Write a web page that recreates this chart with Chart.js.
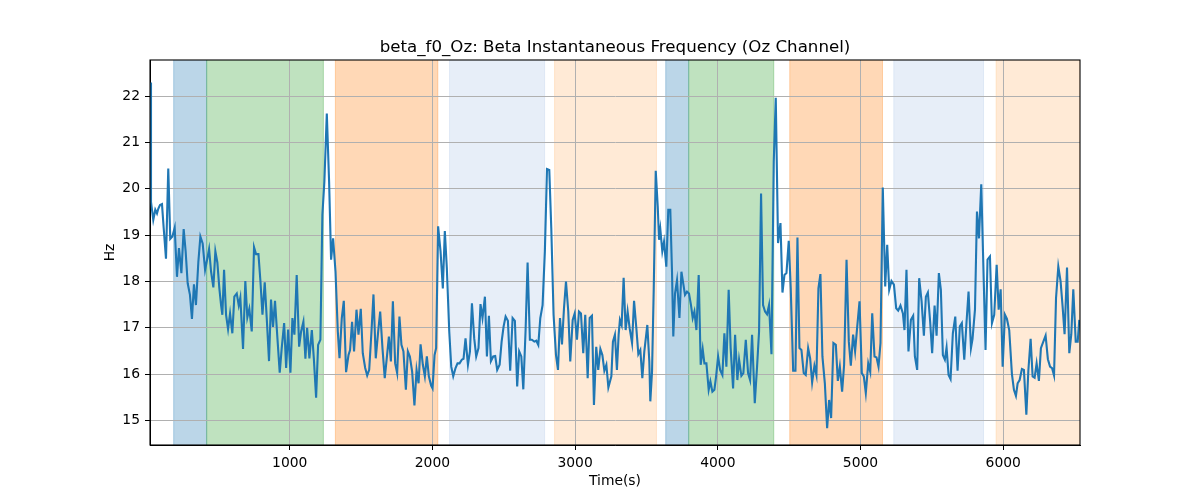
<!DOCTYPE html>
<html>
<head>
<meta charset="utf-8">
<script src="https://cdn.jsdelivr.net/npm/chart.js@4.4.1/dist/chart.umd.min.js"></script>
<style>
html,body{margin:0;padding:0;background:#fff;}
canvas{display:block;}
</style>
</head>
<body>
<canvas id="c" width="1200" height="500"></canvas>
<script>
// ---- data ----
const chartTitle = "beta_f0_Oz: Beta Instantaneous Frequency (Oz Channel)";
const xLabel = "Time(s)";
const yLabel = "Hz";
const xTicks = [1000, 2000, 3000, 4000, 5000, 6000];
const yTicks = [15, 16, 17, 18, 19, 20, 21, 22];
const xRange = [21, 6538];
const yRange = [14.467, 22.784];

const times = [
21,28,44,58,70,79,91,105,117,133,149,163,178,194,210,224,241,257,271,285,301,315,329,343,360,374,390,407,421,435,449,465,479,493,507,519,528,540,554,568,582,598,612,629,643,654,673,689,703,717,734,750,764,781,795,809,825,839,855,869,883,897,914,930,944,961,975,989,1005,1019,1033,1049,1066,1080,1096,1110,1122,1138,
1155,1169,1185,1199,1215,1229,1243,1260,1276,1290,1304,1321,1337,1349,1365,1379,1395,1412,1423,1437,1451,1468,1482,1498,1512,1529,1543,1557,1573,1587,1603,1620,1634,1650,1666,1680,1695,1709,1723,1739,1753,1769,1783,1797,1814,1828,1842,1858,1874,1889,1903,1917,1933,1947,1961,1975,1991,2001,2015,2026,2040,2057,2073,2087,2101,2118,2132,2146,2162,2176,2190,
2206,2218,2232,2249,2263,2277,2293,2307,2323,2337,2351,2368,2382,2396,2410,2426,2440,2454,2471,2485,2499,2513,2529,2545,2562,2578,2594,2608,2623,2637,2653,2667,2683,2697,2714,2728,2742,2756,2772,2788,2803,2819,2833,2849,2866,2880,2894,2908,2922,2936,2952,2966,2983,2997,3013,3027,3041,3057,3071,3088,3102,3118,3132,3148,3162,3177,3191,3205,3219,3233,
3254,3265,3279,3293,3305,3314,3326,3340,3354,3368,3382,3399,3413,3429,3443,3457,3471,3485,3506,3520,3527,3539,3551,3565,3579,3588,3597,3611,3623,3639,3653,3667,3679,3688,3700,3714,3731,3745,3759,3770,3784,3798,3812,3824,3836,3850,3866,3880,3894,3906,3920,3936,3948,3962,3976,3988,4002,4016,4032,4046,4060,4076,4090,4107,4121,4137,4149,4165,4179,4196,4212,4226,4240,4259,
4275,4289,4303,4317,4331,4345,4359,4376,4392,4406,4422,4439,4453,4467,4481,4497,4511,4528,4544,4558,4572,4586,4602,4616,4633,4647,4661,4677,4691,4705,4719,4733,4750,4766,4780,4794,4810,4827,4841,4855,4871,4885,4902,4918,4932,4948,4962,4976,4993,5009,5023,5037,5054,5068,5082,5098,5112,5126,5140,5156,5173,5187,5201,5217,5234,5250,5264,5280,5297,5308,5322,5336,
5353,5369,5381,5397,5411,5428,5444,5458,5472,5488,5502,5519,5533,5549,5563,5577,5591,5603,5617,5631,5647,5664,5680,5696,5710,5727,5743,5757,5774,5785,5802,5816,5830,5846,5876,5890,5907,5921,5937,5954,5968,5982,5996,6012,6026,6042,6061,6075,6089,6101,6115,6131,6145,6162,6176,6192,6206,6220,6234,6250,6264,6281,6297,6313,6328,6342,6356,6370,6386,6402,6416,6430,6447,6463,6477,6491,6508,6522,6533
];
const hz = [
22.30,19.72,19.33,19.55,19.47,19.57,19.65,19.67,19.15,18.49,20.44,18.92,18.97,19.16,18.10,18.72,18.18,19.13,18.64,17.96,17.71,17.19,17.94,17.49,18.43,18.97,18.82,18.25,18.47,18.70,18.21,17.87,18.65,18.41,17.85,17.49,17.28,18.25,17.28,16.97,17.31,16.88,17.67,17.74,17.48,17.65,16.54,18.01,17.22,17.41,16.92,18.74,18.59,18.59,18.00,17.28,17.98,17.21,16.28,17.61,17.02,17.58,16.77,16.03,16.56,17.10,16.13,16.96,16.03,17.21,16.85,18.14,16.59,16.92,17.13,16.33,17.00,16.34,
16.95,16.34,15.49,16.63,16.74,19.44,20.16,21.63,20.16,18.47,18.93,18.21,16.92,16.34,17.21,17.58,16.04,16.41,16.52,17.13,16.49,17.39,16.85,17.41,16.45,16.13,15.97,16.09,16.92,17.72,16.34,16.92,17.35,16.56,15.91,16.34,16.81,16.27,17.57,16.23,16.02,17.24,16.63,16.49,15.66,16.49,16.38,16.05,15.32,16.09,15.80,16.64,16.20,15.95,16.38,15.95,15.75,15.69,16.41,16.56,19.19,18.65,17.85,19.09,18.29,16.92,16.16,15.95,16.13,16.23,16.23,
16.31,16.33,16.77,16.20,16.49,17.53,16.77,16.38,16.56,17.51,17.21,17.67,16.38,17.26,16.28,16.38,16.39,16.09,16.20,16.70,17.03,17.24,17.15,16.07,17.21,17.15,15.73,16.49,16.38,15.67,16.95,18.41,16.74,16.74,16.70,16.72,16.63,17.21,17.49,18.65,20.43,20.41,19.15,17.28,16.41,16.09,17.21,16.64,17.42,18.00,17.35,16.27,17.17,17.31,16.74,17.35,17.31,16.45,17.28,15.91,17.21,17.26,15.33,16.59,16.09,16.54,16.41,16.07,16.20,15.71,
15.95,16.70,16.85,16.09,16.85,17.17,17.06,18.08,16.95,17.35,16.99,16.67,17.58,16.99,16.43,16.52,15.91,16.49,17.06,16.27,15.41,16.05,17.85,20.39,19.62,18.90,19.13,18.65,18.86,18.32,19.55,19.55,18.21,16.81,17.74,18.03,17.21,18.21,17.93,17.71,17.78,17.74,17.49,17.21,17.35,16.95,18.14,16.20,16.54,16.23,16.23,15.66,15.84,15.62,15.66,15.95,16.38,16.09,15.98,16.88,16.16,17.82,16.56,15.69,16.85,15.87,16.31,15.96,16.02,16.74,16.02,15.87,16.85,15.37,
16.16,16.92,19.90,17.49,17.35,17.29,17.49,16.43,20.59,21.97,18.83,19.26,17.76,18.14,18.18,18.88,17.85,16.07,16.07,18.95,16.56,16.52,16.02,15.98,16.56,16.34,15.82,16.18,15.98,17.85,18.16,16.38,15.80,14.83,15.44,15.05,16.67,16.63,15.85,16.16,15.62,16.20,18.47,16.70,16.18,16.85,16.49,16.99,17.57,16.02,15.95,15.59,16.23,16.05,17.31,16.38,16.36,16.16,16.67,20.03,17.89,18.79,17.82,18.01,17.93,17.42,17.37,17.48,17.31,16.95,18.25,16.49,
17.17,17.26,16.38,16.09,18.07,17.57,16.83,17.67,17.76,17.13,16.45,17.48,16.83,18.18,17.82,16.41,16.31,16.57,15.98,15.89,16.88,17.24,16.07,17.03,17.10,16.31,17.13,17.78,16.56,16.76,17.39,19.51,18.93,20.10,16.52,18.47,18.54,17.10,17.28,18.36,17.39,17.83,16.16,17.28,17.19,16.95,16.00,15.66,15.53,15.80,15.87,16.11,16.09,15.12,16.07,16.76,15.95,15.92,16.23,15.85,16.56,16.70,16.83,16.32,16.16,16.13,15.97,17.64,18.32,18.00,17.46,16.86,18.30,16.45,16.86,17.83,16.70,16.70,17.17
];

// shaded segments (start, end, kind)
const spanStart = [187, 418, 1320, 2120, 2856, 3635, 3796, 4504, 5233, 5950];
const spanEnd   = [418, 1236, 2038, 2786, 3570, 3796, 4392, 5154, 5862, 6538];
const spanKind  = [0, 1, 2, 3, 4, 0, 1, 2, 3, 4];

// ---- styles ----
const kindColors = ['31,119,180', '44,160,44', '255,127,14', '174,199,232', '255,187,120'];
const FONT = "'DejaVu Sans', 'Liberation Sans', sans-serif";

const spanPlugin = {
  id: 'spans',
  beforeDraw(chart) {
    const { ctx, chartArea: a, scales: { x } } = chart;
    ctx.save();
    ctx.beginPath();
    ctx.rect(a.left, a.top, a.right - a.left, a.bottom - a.top);
    ctx.clip();
    spanStart.forEach((s, i) => {
      const x0 = x.getPixelForValue(s);
      const x1 = x.getPixelForValue(spanEnd[i]);
      const c = 'rgba(' + kindColors[spanKind[i]] + ',0.3)';
      ctx.fillStyle = c;
      ctx.fillRect(x0, a.top, x1 - x0, a.bottom - a.top);
      ctx.strokeStyle = c;
      ctx.lineWidth = 1;
      ctx.strokeRect(x0, a.top - 2, x1 - x0, a.bottom - a.top + 4);
    });
    ctx.restore();
  }
};

const framePlugin = {
  id: 'frame',
  afterDraw(chart) {
    const { ctx, chartArea: a } = chart;
    ctx.save();
    ctx.strokeStyle = '#000';
    ctx.lineWidth = 1.1;
    ctx.strokeRect(a.left, a.top, a.right - a.left, a.bottom - a.top);
    ctx.fillStyle = '#000';
    const cx = (a.left + a.right) / 2;
    ctx.font = '16.67px ' + FONT;
    ctx.textAlign = 'center';
    ctx.textBaseline = 'alphabetic';
    ctx.fillText(chartTitle, cx, a.top - 8.3);
    ctx.font = '13.89px ' + FONT;
    ctx.textBaseline = 'middle';
    ctx.fillText(xLabel, cx, 481);
    ctx.save();
    ctx.translate(110, (a.top + a.bottom) / 2);
    ctx.rotate(-Math.PI / 2);
    ctx.fillText(yLabel, 0, 0);
    ctx.restore();
    ctx.restore();
  }
};

const axisCommon = {
  grid: { color: '#b0b0b0', lineWidth: 1, tickColor: '#000', tickLength: 5, tickWidth: 1 },
  border: { color: '#000', width: 1 },
  ticks: { color: '#000', font: { size: 13.89, family: FONT }, padding: 5, maxRotation: 0, autoSkip: false, callback: v => String(v) }
};

new Chart(document.getElementById('c'), {
  type: 'line',
  data: {
    datasets: [{
      data: times.map((t, i) => ({ x: t, y: hz[i] })),
      borderColor: '#1f77b4',
      borderWidth: 2.1,
      pointRadius: 0,
      tension: 0,
      fill: false
    }]
  },
  options: {
    responsive: false,
    animation: false,
    devicePixelRatio: 1,
    layout: { padding: { left: 0, right: 120, top: 60, bottom: 0 } },
    plugins: { legend: { display: false }, title: { display: false }, tooltip: { enabled: false } },
    scales: {
      x: Object.assign({}, axisCommon, {
        type: 'linear', min: xRange[0], max: xRange[1],
        afterBuildTicks: s => { s.ticks = xTicks.map(v => ({ value: v })); },
        afterFit: s => { s.height = 55; }
      }),
      y: Object.assign({}, axisCommon, {
        type: 'linear', min: yRange[0], max: yRange[1],
        afterBuildTicks: s => { s.ticks = yTicks.map(v => ({ value: v })); },
        afterFit: s => { s.width = 150; }
      })
    }
  },
  plugins: [spanPlugin, framePlugin]
});
</script>
</body>
</html>
